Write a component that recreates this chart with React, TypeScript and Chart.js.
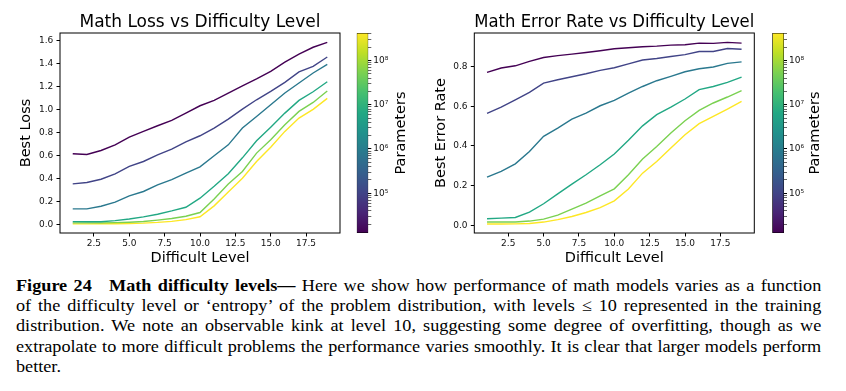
import React, { useEffect, useRef } from "react";
import { Chart, registerables } from "chart.js";

Chart.register(...registerables);

// ---------- data ----------
const difficultyLevels = [1, 2, 3, 4, 5, 6, 7, 8, 9, 10, 11, 12, 13, 14, 15, 16, 17, 18, 19];

// Best loss per model size (smallest model first)
const lossModel1 = [0.613, 0.607, 0.642, 0.69, 0.758, 0.808, 0.857, 0.903, 0.967, 1.031, 1.078, 1.14, 1.205, 1.264, 1.33, 1.41, 1.48, 1.54, 1.583];
const lossModel2 = [0.351, 0.363, 0.392, 0.439, 0.503, 0.546, 0.604, 0.654, 0.717, 0.77, 0.837, 0.915, 1.002, 1.083, 1.156, 1.235, 1.325, 1.374, 1.455];
const lossModel3 = [0.134, 0.134, 0.157, 0.192, 0.247, 0.285, 0.343, 0.389, 0.444, 0.5, 0.596, 0.691, 0.837, 0.938, 1.04, 1.142, 1.229, 1.316, 1.391];
const lossModel4 = [0.023, 0.022, 0.022, 0.032, 0.046, 0.064, 0.087, 0.116, 0.148, 0.227, 0.33, 0.44, 0.578, 0.726, 0.845, 0.967, 1.078, 1.153, 1.24];
const lossModel5 = [0.012, 0.012, 0.012, 0.014, 0.018, 0.024, 0.036, 0.05, 0.07, 0.102, 0.22, 0.35, 0.459, 0.619, 0.735, 0.866, 0.982, 1.06, 1.159];
const lossModel6 = [0.003, 0.003, 0.004, 0.005, 0.007, 0.01, 0.016, 0.025, 0.04, 0.065, 0.16, 0.28, 0.4, 0.546, 0.67, 0.808, 0.924, 1.0, 1.095];

// Best error rate per model size (smallest model first)
const errModel1 = [0.77, 0.792, 0.803, 0.825, 0.845, 0.854, 0.862, 0.87, 0.879, 0.889, 0.894, 0.899, 0.902, 0.907, 0.909, 0.917, 0.916, 0.921, 0.917];
const errModel2 = [0.564, 0.595, 0.632, 0.669, 0.716, 0.733, 0.748, 0.763, 0.78, 0.793, 0.813, 0.832, 0.84, 0.85, 0.859, 0.875, 0.875, 0.89, 0.886];
const errModel3 = [0.243, 0.272, 0.31, 0.372, 0.448, 0.49, 0.535, 0.565, 0.602, 0.629, 0.666, 0.699, 0.728, 0.75, 0.773, 0.788, 0.797, 0.815, 0.823];
const errModel4 = [0.034, 0.037, 0.04, 0.067, 0.109, 0.159, 0.208, 0.255, 0.305, 0.359, 0.428, 0.501, 0.557, 0.595, 0.636, 0.683, 0.699, 0.72, 0.746];
const errModel5 = [0.017, 0.017, 0.017, 0.022, 0.032, 0.052, 0.082, 0.112, 0.149, 0.184, 0.255, 0.334, 0.397, 0.465, 0.527, 0.579, 0.616, 0.646, 0.678];
const errModel6 = [0.007, 0.007, 0.008, 0.01, 0.017, 0.029, 0.045, 0.065, 0.09, 0.124, 0.183, 0.263, 0.322, 0.389, 0.456, 0.512, 0.548, 0.585, 0.624];

const seriesColors = ["#440154", "#414487", "#2a788e", "#22a884", "#7ad151", "#fde725"];

// ticks
const xTickValues = [2.5, 5, 7.5, 10, 12.5, 15, 17.5];
const lossTickValues = [0, 0.2, 0.4, 0.6, 0.8, 1.0, 1.2, 1.4, 1.6];
const errTickValues = [0, 0.2, 0.4, 0.6, 0.8];

// colorbar (parameters, log scale)
const paramMin = 1.26e4;
const paramMax = 4.2e8;
const paramMajorTicks = [1e5, 1e6, 1e7, 1e8];
const paramMajorLabels = ["10\u2075", "10\u2076", "10\u2077", "10\u2078"];
const paramMinorMultipliers = [1, 2, 3, 4, 5, 6, 7, 8, 9];
const paramDecades = [1e4, 1e5, 1e6, 1e7, 1e8];
const viridisStops = ["#440154", "#482475", "#414487", "#355f8d", "#2a788e", "#21918c", "#22a884", "#44bf70", "#7ad151", "#bddf26", "#fde725"];

// text
const lossTitle = "Math Loss vs Difficulty Level";
const errTitle = "Math Error Rate vs Difficulty Level";
const xAxisTitle = "Difficult Level";
const lossAxisTitle = "Best Loss";
const errAxisTitle = "Best Error Rate";
const colorbarTitle = "Parameters";
const captionLabel = "Figure 24";
const captionHeading = "Math difficulty levels\u2014";
const captionLines = [
  " Here we show how performance of math models varies as a function",
  "of the difficulty level or \u2018entropy\u2019 of the problem distribution, with levels \u2264 10 represented in the training",
  "distribution.  We note an observable kink at level 10, suggesting some degree of overfitting, though as we",
  "extrapolate to more difficult problems the performance varies smoothly. It is clear that larger models perform",
  "better.",
];

// ---------- chart helpers ----------
const FONT = "DejaVu Sans";

const framePlugin = {
  id: "frame",
  afterDatasetsDraw(chart: any) {
    const { ctx, chartArea: a } = chart;
    ctx.save();
    ctx.strokeStyle = "#000";
    ctx.lineWidth = 1;
    ctx.strokeRect(a.left, a.top, a.right - a.left, a.bottom - a.top);
    ctx.restore();
  },
};

function lineConfig(p: {
  title: string;
  yTitle: string;
  series: number[][];
  yTicks: number[];
  yMin: number;
  yMax: number;
  yWidth: number;
  yTitlePad: number;
  padRight: number;
}): any {
  return {
    type: "line",
    data: {
      datasets: p.series.map((s, i) => ({
        data: difficultyLevels.map((x, j) => ({ x, y: s[j] })),
        borderColor: seriesColors[i],
        backgroundColor: seriesColors[i],
        borderWidth: 1.4,
        pointRadius: 0,
        tension: 0,
        fill: false,
      })),
    },
    options: {
      animation: false,
      responsive: false,
      maintainAspectRatio: false,
      devicePixelRatio: 1,
      layout: { padding: { top: 12, right: p.padRight, left: 0, bottom: 0 } },
      plugins: {
        legend: { display: false },
        tooltip: { enabled: false },
        title: {
          display: true,
          text: p.title,
          fullSize: false,
          color: "#000",
          font: { family: FONT, size: 17, weight: "normal", lineHeight: 1.2 },
          padding: { top: 0, bottom: 0.6 },
        },
      },
      scales: {
        x: {
          type: "linear",
          min: 0.1,
          max: 19.9,
          afterBuildTicks: (s: any) => {
            s.ticks = xTickValues.map((v) => ({ value: v }));
          },
          afterFit: (s: any) => {
            s.height = 37;
          },
          ticks: {
            autoSkip: false,
            maxRotation: 0,
            padding: 1.5,
            color: "#111",
            font: { family: FONT, size: 9 },
            callback: (v: any) => Number(v).toFixed(1),
          },
          grid: { drawOnChartArea: false, drawTicks: true, tickLength: 3.5, color: "#000" },
          border: { display: false },
          title: {
            display: true,
            text: xAxisTitle,
            color: "#000",
            font: { family: FONT, size: 14.5, lineHeight: 1.2 },
            padding: { top: 0, bottom: 3 },
          },
        },
        y: {
          type: "linear",
          min: p.yMin,
          max: p.yMax,
          afterBuildTicks: (s: any) => {
            s.ticks = p.yTicks.map((v) => ({ value: v }));
          },
          afterFit: (s: any) => {
            s.width = p.yWidth;
          },
          ticks: {
            autoSkip: false,
            padding: 3.2,
            color: "#111",
            font: { family: FONT, size: 9 },
            callback: (v: any) => Number(v).toFixed(1),
          },
          grid: { drawOnChartArea: false, drawTicks: true, tickLength: 3.5, color: "#000" },
          border: { display: false },
          title: {
            display: true,
            text: p.yTitle,
            color: "#000",
            font: { family: FONT, size: 14.5, lineHeight: 1.2 },
            padding: { top: p.yTitlePad, bottom: 0 },
          },
        },
      },
    },
    plugins: [framePlugin],
  };
}

function colorbarConfig(padLeft: number, axisWidth: number, labelX: number): any {
  const ticks: { value: number; major: boolean }[] = [];
  paramDecades.forEach((d) =>
    paramMinorMultipliers.forEach((m) => {
      const v = d * m;
      if (v >= paramMin && v <= paramMax) ticks.push({ value: v, major: m === 1 });
    })
  );
  const labelPlugin = {
    id: "cbLabel",
    afterDraw(chart: any) {
      const { ctx, chartArea: a } = chart;
      ctx.save();
      ctx.translate(labelX, (a.top + a.bottom) / 2);
      ctx.rotate(-Math.PI / 2);
      ctx.textAlign = "center";
      ctx.textBaseline = "middle";
      ctx.fillStyle = "#000";
      ctx.font = `14.5px "${FONT}"`;
      ctx.fillText(colorbarTitle, 0, 0);
      ctx.restore();
    },
  };
  return {
    type: "bar",
    data: {
      labels: [""],
      datasets: [
        {
          data: [[paramMin, paramMax]],
          backgroundColor: (c: any) => {
            const { chart } = c;
            const a = chart.chartArea;
            if (!a) return viridisStops[0];
            const g = chart.ctx.createLinearGradient(0, a.bottom, 0, a.top);
            viridisStops.forEach((col, i) => g.addColorStop(i / (viridisStops.length - 1), col));
            return g;
          },
          borderColor: "#000",
          borderWidth: 0.8,
          borderSkipped: false,
          barPercentage: 1,
          categoryPercentage: 1,
        },
      ],
    },
    options: {
      animation: false,
      responsive: false,
      maintainAspectRatio: false,
      devicePixelRatio: 1,
      layout: { padding: { top: 33, bottom: 37, left: padLeft, right: 0 } },
      plugins: { legend: { display: false }, tooltip: { enabled: false }, title: { display: false } },
      scales: {
        x: { display: false },
        y: {
          type: "logarithmic",
          position: "right",
          min: paramMin,
          max: paramMax,
          afterBuildTicks: (s: any) => {
            s.ticks = ticks.map((t) => ({ ...t }));
          },
          afterFit: (s: any) => {
            s.width = axisWidth;
          },
          ticks: {
            autoSkip: false,
            padding: 2,
            color: "#111",
            font: { family: FONT, size: 9 },
            callback: (v: any) => {
              const idx = paramMajorTicks.indexOf(Number(v));
              return idx >= 0 ? paramMajorLabels[idx] : "";
            },
          },
          grid: {
            drawOnChartArea: false,
            drawTicks: true,
            tickLength: 3,
            color: "#000",
            tickWidth: (c: any) => (c.tick && c.tick.major ? 1 : 0.6),
          },
          border: { display: false },
        },
      },
    },
    plugins: [labelPlugin],
  };
}

function ChartCanvas(props: { left: number; top: number; width: number; height: number; makeConfig: () => any }) {
  const ref = useRef<HTMLCanvasElement | null>(null);
  useEffect(() => {
    if (!ref.current) return;
    const chart = new Chart(ref.current, props.makeConfig());
    return () => chart.destroy();
  }, []);
  return (
    <canvas
      ref={ref}
      width={props.width}
      height={props.height}
      style={{ position: "absolute", left: props.left, top: props.top, width: props.width, height: props.height }}
    />
  );
}

export default function App() {
  const lineStyle = (i: number): React.CSSProperties => ({
    textAlign: "justify",
    textAlignLast: i < captionLines.length - 1 ? "justify" : "left",
    height: "20.3px",
  } as any);
  return (
    <div style={{ position: "absolute", left: 0, top: 0, width: 846, height: 391, background: "#fff", overflow: "hidden" }}>
      <ChartCanvas
        left={0}
        top={0}
        width={350}
        height={270}
        makeConfig={() =>
          lineConfig({
            title: lossTitle,
            yTitle: lossAxisTitle,
            series: [lossModel1, lossModel2, lossModel3, lossModel4, lossModel5, lossModel6],
            yTicks: lossTickValues,
            yMin: -0.076,
            yMax: 1.664,
            yWidth: 60,
            yTitlePad: 18,
            padRight: 10,
          })
        }
      />
      <ChartCanvas left={345} top={0} width={75} height={270} makeConfig={() => colorbarConfig(11.7, 51.7, 56.7)} />
      <ChartCanvas
        left={410}
        top={0}
        width={350}
        height={270}
        makeConfig={() =>
          lineConfig({
            title: errTitle,
            yTitle: errAxisTitle,
            series: [errModel1, errModel2, errModel3, errModel4, errModel5, errModel6],
            yTicks: errTickValues,
            yMin: -0.038,
            yMax: 0.968,
            yWidth: 64.3,
            yTitlePad: 23,
            padRight: 5.7,
          })
        }
      />
      <ChartCanvas left={760} top={0} width={86} height={270} makeConfig={() => colorbarConfig(12.3, 62, 55.7)} />
      <div
        style={{
          position: "absolute",
          left: 15.7,
          top: 275.8,
          width: 752.6,
          transform: "scaleX(1.07)",
          transformOrigin: "0 0",
          fontFamily: '"Liberation Serif", "Times New Roman", serif',
          fontSize: 17,
          lineHeight: "20.3px",
          color: "#000",
        }}
      >
        {captionLines.map((line, i) => (
          <div key={i} style={lineStyle(i)}>
            {i === 0 ? (
              <>
                <b style={{ marginRight: "0.95em" }}>{captionLabel}</b>
                <b>{captionHeading}</b>
              </>
            ) : null}
            {line}
          </div>
        ))}
      </div>
    </div>
  );
}
